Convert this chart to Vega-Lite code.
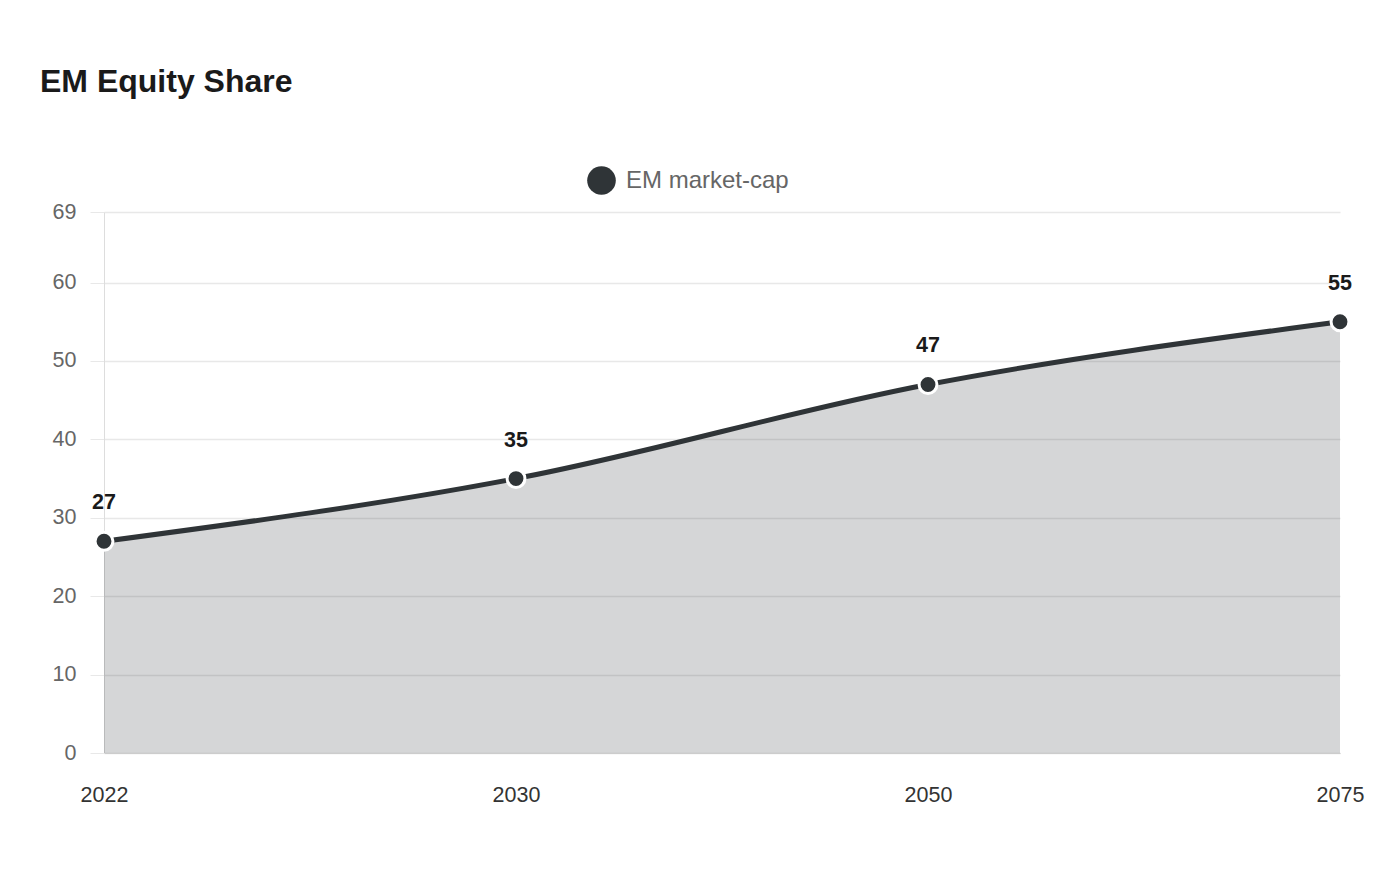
{
  "$schema": "https://vega.github.io/schema/vega-lite/v6.json",
  "background": "white",
  "autosize": "none",
  "padding": {"left": 104, "top": 212, "right": 60, "bottom": 127},
  "width": 1236,
  "height": 541,
  "title": {
    "text": "EM Equity Share",
    "anchor": "start",
    "frame": "group",
    "dx": -64,
    "offset": 67,
    "fontSize": 32,
    "fontWeight": "bold",
    "color": "#1a1a1a",
    "font": "Liberation Sans"
  },
  "data": {
    "values": [
      {"year": "2022", "share": 27, "series": "EM market-cap"},
      {"year": "2030", "share": 35, "series": "EM market-cap"},
      {"year": "2050", "share": 47, "series": "EM market-cap"},
      {"year": "2075", "share": 55, "series": "EM market-cap"}
    ]
  },
  "encoding": {
    "x": {
      "field": "year",
      "type": "ordinal",
      "scale": {"type": "point", "padding": 0},
      "title": null,
      "axis": {
        "labelAngle": 0,
        "labelFontSize": 21.5,
        "labelColor": "#333333",
        "labelPadding": 31,
        "ticks": false,
        "domain": true,
        "domainColor": "#cccccc",
        "grid": false
      }
    },
    "y": {
      "field": "share",
      "type": "quantitative",
      "scale": {"domain": [0, 69], "nice": false},
      "title": null,
      "axis": {
        "values": [0, 10, 20, 30, 40, 50, 60, 69],
        "labelFontSize": 21.5,
        "labelColor": "#666666",
        "labelPadding": 14,
        "tickSize": 14,
        "tickColor": "#e8e8e8",
        "domainColor": "#dddddd",
        "gridColor": "#e8e8e8",
        "gridWidth": 1.5
      }
    }
  },
  "layer": [
    {
      "mark": {"type": "area", "interpolate": "monotone", "color": "#2f3437", "opacity": 0.2}
    },
    {
      "mark": {"type": "line", "interpolate": "monotone", "color": "#2f3437", "strokeWidth": 5}
    },
    {
      "mark": {"type": "point", "filled": true, "size": 320, "stroke": "white", "strokeWidth": 3, "opacity": 1},
      "encoding": {
        "color": {
          "field": "series",
          "type": "nominal",
          "scale": {"range": ["#2f3437"]},
          "legend": {
            "title": null,
            "orient": "none",
            "legendX": 483,
            "legendY": -46,
            "symbolType": "circle",
            "symbolSize": 820,
            "symbolStrokeWidth": 0,
            "symbolOpacity": 1,
            "labelFontSize": 24,
            "labelLimit": 400,
            "labelColor": "#666666",
            "labelOffset": 10
          }
        }
      }
    },
    {
      "mark": {"type": "text", "dy": -38, "fontSize": 21.5, "fontWeight": "bold", "color": "#1a1a1a"},
      "encoding": {"text": {"field": "share", "type": "quantitative"}}
    }
  ],
  "config": {
    "font": "Liberation Sans",
    "view": {"stroke": null}
  }
}
